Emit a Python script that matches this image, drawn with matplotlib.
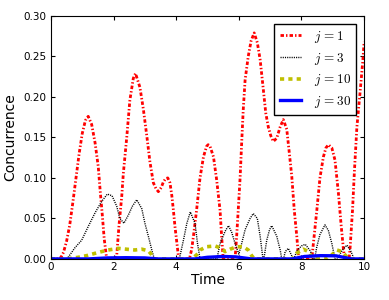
import matplotlib
matplotlib.use("Agg")
import matplotlib.pyplot as plt

plt.rcParams['mathtext.fontset'] = 'cm'
plt.rcParams['lines.scale_dashes'] = False

# j = 1
t1 = [0.0, 0.25, 0.32, 0.4, 0.5, 0.6, 0.7, 0.8, 0.9, 1.0, 1.1, 1.19, 1.3, 1.41, 1.51, 1.57,
      1.64, 1.7, 1.78, 2.05, 2.1, 2.17, 2.26, 2.31, 2.42, 2.52, 2.63, 2.7, 2.84, 2.95, 3.06,
      3.16, 3.27, 3.35, 3.43, 3.52, 3.59, 3.66, 3.73, 3.8, 3.86, 3.91, 3.96, 4.02, 4.08, 4.42,
      4.49, 4.55, 4.65, 4.76, 4.87, 4.97, 5.02, 5.08, 5.19, 5.29, 5.4, 5.45, 5.5, 5.88, 5.93,
      5.98, 6.04, 6.09, 6.14, 6.2, 6.3, 6.39, 6.49, 6.59, 6.68, 6.76, 6.86, 6.94, 7.02, 7.1,
      7.21, 7.32, 7.42, 7.53, 7.6, 7.69, 7.77, 7.85, 7.91, 8.33, 8.38, 8.49, 8.59, 8.7, 8.78,
      8.86, 8.97, 9.07, 9.18, 9.27, 9.34, 9.38, 9.52, 9.55, 9.63, 9.69, 9.77, 9.87, 9.96, 10.0]
c1 = [0.0, 0.0, 0.002, 0.008, 0.022, 0.042, 0.07, 0.1, 0.13, 0.155, 0.171, 0.176, 0.166, 0.143,
      0.114, 0.085, 0.054, 0.025, 0.0, 0.0, 0.004, 0.04, 0.077, 0.105, 0.15, 0.196, 0.223, 0.229,
      0.212, 0.185, 0.152, 0.12, 0.094, 0.087, 0.083, 0.088, 0.095, 0.099, 0.1, 0.094, 0.078,
      0.06, 0.04, 0.02, 0.0, 0.0, 0.011, 0.028, 0.06, 0.1, 0.126, 0.139, 0.141, 0.139, 0.126,
      0.098, 0.06, 0.028, 0.0, 0.0, 0.028, 0.06, 0.1, 0.143, 0.184, 0.221, 0.25, 0.269, 0.279,
      0.267, 0.246, 0.217, 0.18, 0.163, 0.152, 0.145, 0.149, 0.163, 0.172, 0.16, 0.135, 0.102,
      0.06, 0.028, 0.0, 0.0, 0.019, 0.06, 0.1, 0.126, 0.137, 0.141, 0.137, 0.122, 0.081, 0.04,
      0.012, 0.0, 0.0, 0.012, 0.06, 0.108, 0.163, 0.205, 0.245, 0.268]

# j = 3
t3 = [0.0, 0.5, 0.55, 0.77, 0.98, 1.19, 1.41, 1.62, 1.8, 1.95, 2.1, 2.2, 2.33, 2.47, 2.6, 2.74,
      2.9, 3.0, 3.11, 3.22, 3.3, 4.1, 4.23, 4.34, 4.45, 4.6, 4.68, 4.76, 5.3, 5.4, 5.56, 5.67,
      5.77, 5.88, 6.0, 6.09, 6.2, 6.36, 6.46, 6.59, 6.68, 6.76, 6.8, 6.89, 6.98, 7.05, 7.21,
      7.32, 7.37, 7.43, 7.48, 7.58, 7.7, 7.76, 7.85, 8.0, 8.12, 8.28, 8.38, 8.42, 8.49, 8.59,
      8.75, 8.86, 8.97, 9.07, 9.15, 9.29, 9.45, 9.57, 9.68, 10.0]
c3 = [0.0, 0.0, 0.002, 0.014, 0.023, 0.04, 0.057, 0.071, 0.08, 0.078, 0.065, 0.05, 0.044, 0.054,
      0.065, 0.073, 0.062, 0.044, 0.028, 0.011, 0.0, 0.0, 0.023, 0.044, 0.058, 0.044, 0.019,
      0.0, 0.0, 0.019, 0.034, 0.041, 0.033, 0.019, 0.006, 0.019, 0.036, 0.05, 0.056, 0.05,
      0.028, 0.003, 0.0, 0.023, 0.036, 0.041, 0.028, 0.011, 0.0, 0.0, 0.009, 0.013, 0.003, 0.0,
      0.01, 0.016, 0.018, 0.01, 0.0, 0.0, 0.015, 0.03, 0.042, 0.035, 0.019, 0.0, 0.0, 0.01,
      0.017, 0.01, 0.0, 0.0]

# j = 10
t10 = [0.0, 0.5, 0.87, 1.14, 1.51, 1.83, 2.15, 2.4, 2.68, 2.9, 3.11, 3.22, 3.3, 4.5, 4.71, 4.76,
       4.97, 5.24, 5.45, 5.56, 5.72, 5.93, 6.14, 6.3, 6.41, 6.5, 7.7, 7.85, 8.06, 8.22, 8.33,
       8.4, 8.85, 8.97, 9.13, 9.29, 9.44, 9.52, 10.0]
c10 = [0.0, 0.0, 0.002, 0.004, 0.008, 0.011, 0.013, 0.012, 0.011, 0.012, 0.01, 0.005, 0.0, 0.0,
       0.007, 0.011, 0.015, 0.016, 0.013, 0.009, 0.012, 0.015, 0.015, 0.011, 0.004, 0.0, 0.0,
       0.007, 0.012, 0.009, 0.003, 0.0, 0.0, 0.005, 0.011, 0.009, 0.003, 0.0, 0.0]

# j = 30
t30 = [0.0, 1.2, 1.8, 2.4, 3.0, 3.4, 4.6, 5.0, 5.5, 5.9, 6.4, 7.7, 8.1, 8.6, 9.1, 9.6, 10.0]
c30 = [0.0, 0.0, 0.0012, 0.0015, 0.0012, 0.0, 0.0, 0.002, 0.003, 0.0025, 0.0, 0.0, 0.003, 0.004,
       0.0038, 0.0, 0.0]

labels = [r'$j\,{=}1$', r'$j\,{=}3$', r'$j\,{=}10$', r'$j\,{=}30$']

fig = plt.figure(figsize=(3.89, 3.0), dpi=100)
ax = fig.add_axes([0.131, 0.137, 0.805, 0.81])

ax.plot(t1, c1, color='r', lw=2, linestyle=(0, (2.5, 1.5, 1, 1.5)), label=labels[0])
ax.plot(t3, c3, color='k', lw=1, linestyle=(0, (0.8, 0.8)), label=labels[1])
ax.plot(t10, c10, color='y', lw=2.6, linestyle=(0, (3, 3)), label=labels[2])
ax.plot(t30, c30, color='b', lw=2.4, label=labels[3])

ax.set_xlim(0, 10)
ax.set_ylim(0, 0.30)
ax.set_xticks([0, 2, 4, 6, 8, 10])
ax.set_yticks([0.0, 0.05, 0.10, 0.15, 0.20, 0.25, 0.30])
ax.set_yticklabels(['0.00', '0.05', '0.10', '0.15', '0.20', '0.25', '0.30'])
ax.tick_params(direction='in', top=True, right=True, length=3, labelsize=7.5)
ax.tick_params(axis='x', pad=2)
ax.set_xlabel('Time', fontsize=10, labelpad=1)
ax.set_ylabel('Concurrence', fontsize=10)

leg = ax.legend(loc='upper right', fontsize=9.5, handlelength=1.6, labelspacing=0.42,
                handletextpad=1.0, borderaxespad=0.6, fancybox=False, framealpha=1)
leg.get_frame().set_edgecolor('k')

fig.savefig('out.png', dpi=100)
